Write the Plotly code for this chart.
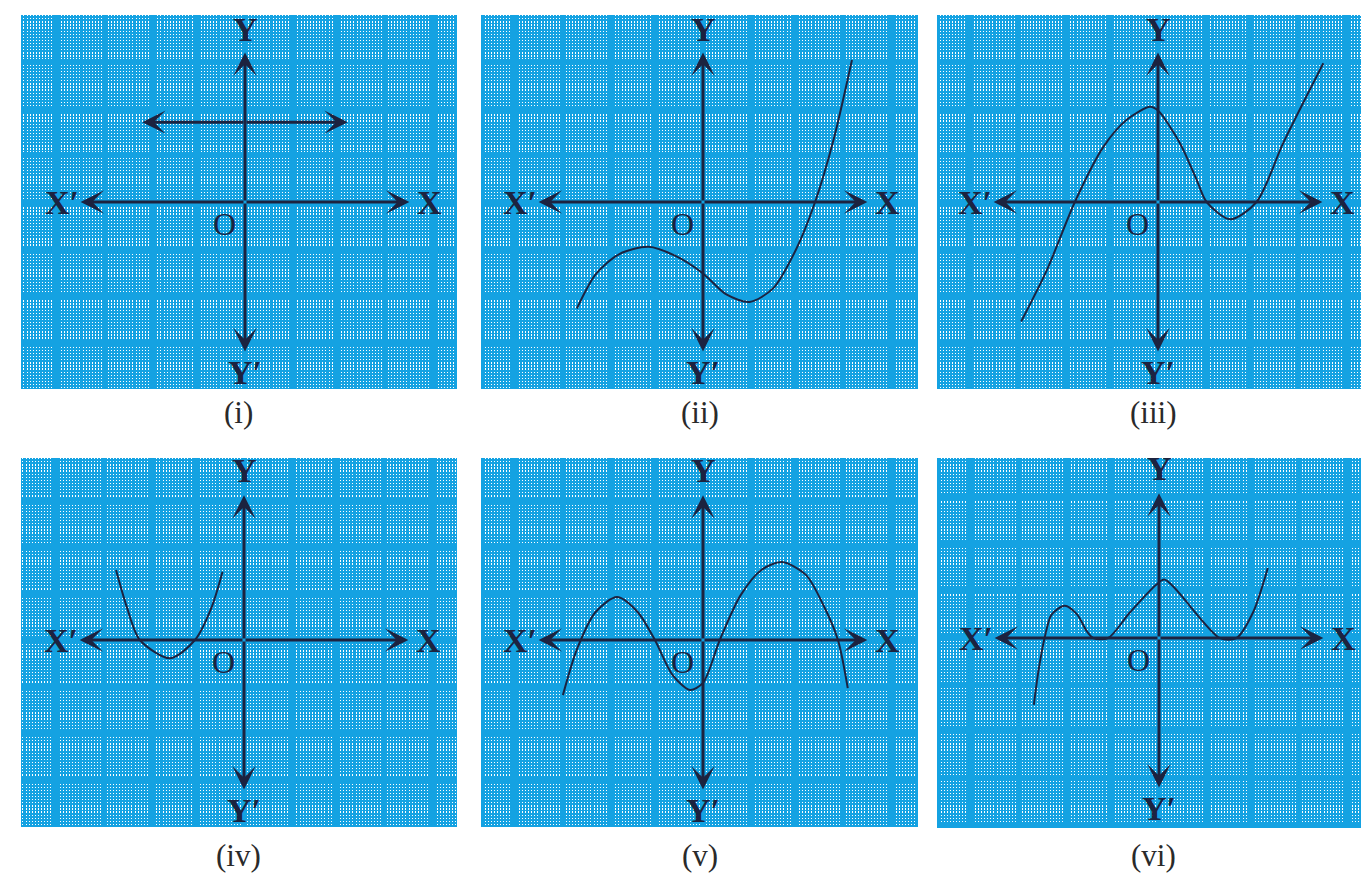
import plotly.graph_objects as go

# page is drawn with an 8px body margin, so the figure is offset by 8px
OFF = 8
W, H = 1369 - OFF, 875 - OFF
U = 46.7  # pixels per grid unit

BLUE = "#14a2e2"
INK = "#1c2340"

captions = ["(i)", "(ii)", "(iii)", "(iv)", "(v)", "(vi)"]

# (i) horizontal line y = k
line_i_x = [-2.2, 2.2]
line_i_y = [1.71, 1.71]

# (ii)
curve_ii_x = [-2.70, -2.3, -1.8, -1.17, -0.6, 0.0, 0.5, 1.0, 1.5, 2.0, 2.4, 2.8, 3.19]
curve_ii_y = [-2.28, -1.55, -1.12, -0.96, -1.15, -1.53, -1.98, -2.14, -1.85, -1.0, 0.0, 1.35, 3.04]

# (iii)
curve_iii_x = [-2.93, -2.38, -1.78, -1.17, -0.67, -0.17, 0.0, 0.47, 0.83, 1.04, 1.55, 2.11, 2.68, 3.54]
curve_iii_y = [-2.56, -1.46, 0.0, 1.18, 1.76, 2.04, 1.96, 1.26, 0.47, 0.0, -0.37, 0.0, 1.26, 2.97]

# (iv)
curve_iv_x = [-2.74, -2.51, -2.23, -1.58, -1.05, -0.69, -0.46]
curve_iv_y = [1.50, 0.71, 0.0, -0.39, 0.0, 0.71, 1.46]

# (v)
curve_v_x = [-3.0, -2.7, -2.3, -1.84, -1.4, -1.03, -0.65, -0.28, 0.0, 0.36, 0.8, 1.25, 1.69, 2.2, 2.6, 2.89, 3.1]
curve_v_y = [-1.18, -0.2, 0.6, 0.92, 0.6, 0.0, -0.75, -1.07, -0.92, 0.0, 0.95, 1.5, 1.67, 1.4, 0.7, 0.0, -1.03]

# (vi)
curve_vi_x = [-2.68, -2.58, -2.45, -2.3, -2.02, -1.75, -1.55, -1.41, -1.09, -0.63, -0.06, 0.12, 1.30, 1.66, 2.01, 2.33]
curve_vi_y = [-1.43, -0.70, 0.0, 0.50, 0.69, 0.50, 0.15, 0.0, 0.0, 0.54, 1.14, 1.25, 0.0, 0.0, 0.54, 1.50]

curves = [
    (line_i_x, line_i_y),
    (curve_ii_x, curve_ii_y),
    (curve_iii_x, curve_iii_y),
    (curve_iv_x, curve_iv_y),
    (curve_v_x, curve_v_y),
    (curve_vi_x, curve_vi_y),
]

# layout geometry (reference pixels)
cols = [(21, 457), (481, 918), (937, 1369)]
rows = [(15, 389), (458, 827)]
origins = [(245, 202), (703, 202), (1158, 202), (244, 640), (703, 640), (1159, 638)]
caption_y = [412, 855]

fig = go.Figure()
annotations = []
layout_axes = {}

for k in range(6):
    r, c = divmod(k, 3)
    x0, x1 = cols[c]
    y0, y1 = rows[r]
    ox, oy = origins[k]
    sfx = "" if k == 0 else str(k + 1)
    xr = [(x0 - ox) / U, (x1 - ox) / U]
    yr = [(oy - y1) / U, (oy - y0) / U]
    common = dict(showticklabels=False, ticks="", zeroline=False, showline=False,
                  fixedrange=True, showgrid=True, gridcolor=BLUE, gridwidth=6,
                  tick0=0, dtick=1)
    layout_axes["xaxis" + sfx] = dict(
        domain=[(x0 - OFF) / W, min(1, (x1 - OFF) / W)], range=xr, anchor="y" + sfx,
        minor=dict(showgrid=True, tick0=0, dtick=1 / 15, gridcolor="white",
                   gridwidth=1.3, griddash="1.3px,1.8px"),
        **common)
    layout_axes["yaxis" + sfx] = dict(
        domain=[1 - (y1 - OFF) / H, 1 - (y0 - OFF) / H], range=yr, anchor="x" + sfx,
        **common)

    xref, yref = "x" + sfx, "y" + sfx
    top = 3.2 if r == 0 else 3.1
    tips = [(3.52, 0), (-3.52, 0), (0, top), (0, -3.2)]
    for tx, ty in tips:
        annotations.append(dict(x=tx, y=ty, ax=0, ay=0, xref=xref, yref=yref,
                                axref=xref, ayref=yref, text="", showarrow=True,
                                arrowhead=3, arrowsize=1.3, arrowwidth=3,
                                arrowcolor=INK))
    ytop = 3.7 if r == 0 else 3.62
    for txt, lx, ly, fs in [("<b>X′</b>", -3.92, 0, 34), ("<b>X</b>", 3.95, 0, 34),
                            ("<b>Y</b>", 0, ytop, 34), ("<b>Y′</b>", 0, -3.66, 34),
                            ("O", -0.43, -0.47, 32)]:
        annotations.append(dict(x=lx, y=ly, xref=xref, yref=yref, text=txt,
                                showarrow=False, xanchor="center", yanchor="middle",
                                font=dict(family="Liberation Serif", size=fs, color=INK)))
    annotations.append(dict(x=((x0 + x1) / 2 - OFF) / W, y=1 - (caption_y[r] - OFF) / H,
                            xref="paper", yref="paper", text=captions[k],
                            showarrow=False, xanchor="center", yanchor="middle",
                            font=dict(family="Liberation Serif", size=31, color="#2a2a2a")))

    cx, cy = curves[k]
    if k == 0:
        mid = (cx[0] + cx[1]) / 2
        for ex in cx:
            annotations.append(dict(x=ex, y=cy[0], ax=mid, ay=cy[0], xref=xref, yref=yref,
                                    axref=xref, ayref=yref, text="", showarrow=True,
                                    arrowhead=3, arrowsize=1.3, arrowwidth=3,
                                    arrowcolor=INK))
    else:
        fig.add_trace(go.Scatter(x=cx, y=cy, mode="lines", xaxis=xref, yaxis=yref,
                                 line=dict(color=INK, width=2, shape="spline", smoothing=0.8),
                                 hoverinfo="skip", showlegend=False))

fig.update_layout(
    width=W, height=H, margin=dict(l=0, r=0, t=0, b=0),
    paper_bgcolor="white", plot_bgcolor=BLUE,
    showlegend=False, annotations=annotations, **layout_axes)

fig.write_html("out.html")
